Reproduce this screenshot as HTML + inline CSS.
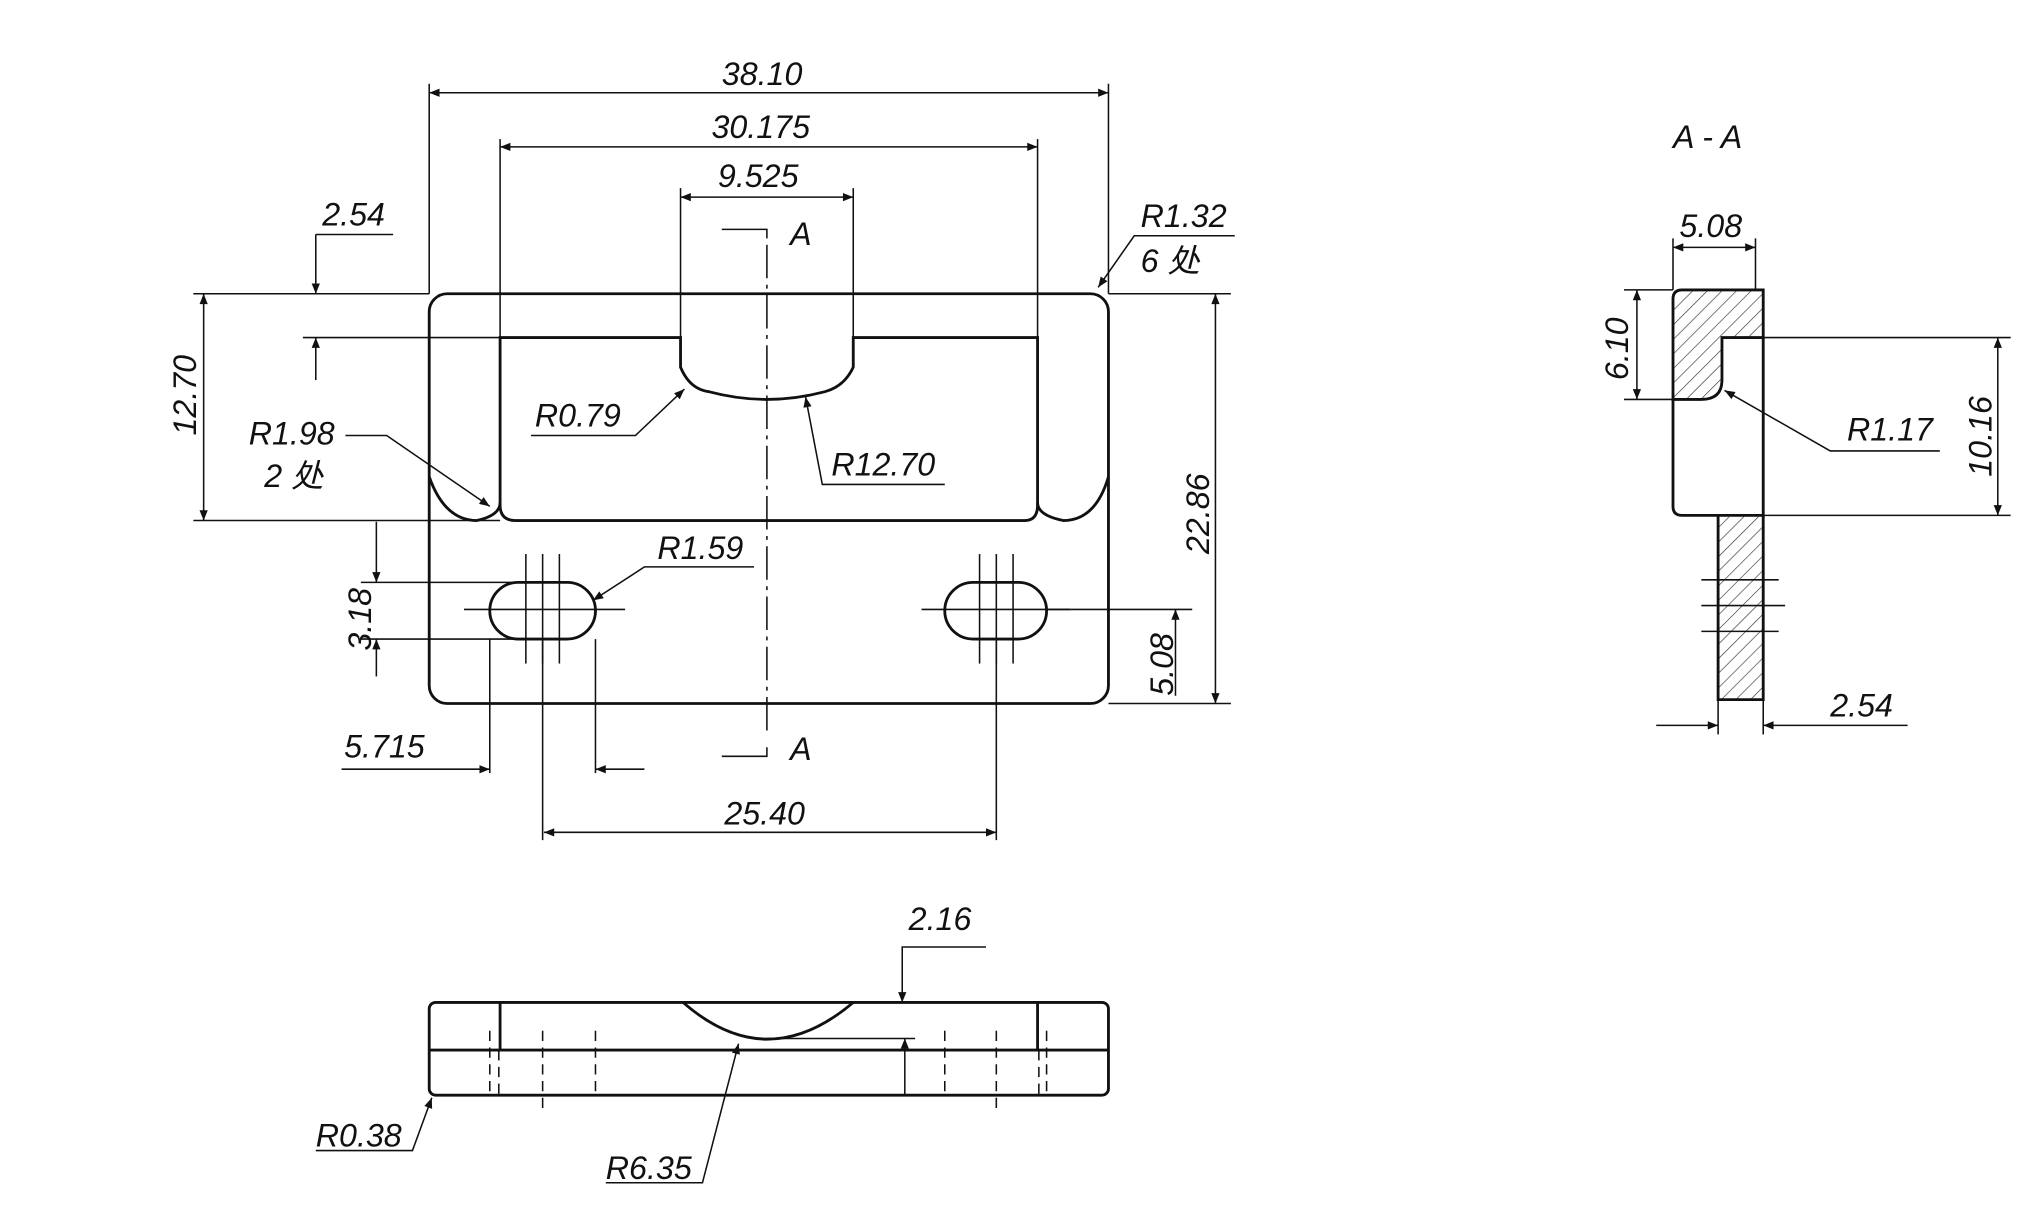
<!DOCTYPE html>
<html><head><meta charset="utf-8"><style>
html,body{margin:0;padding:0;background:#fff;width:2021px;height:1215px;overflow:hidden}
svg{display:block}
text{font-family:"Liberation Sans","Noto Sans CJK SC",sans-serif;font-style:italic;font-size:25px;fill:#111}
</style></head><body>
<svg width="2021" height="1215" viewBox="0 0 1568 943" preserveAspectRatio="none" xmlns="http://www.w3.org/2000/svg">
<defs>
<marker id="a" viewBox="0 0 10 10" refX="10" refY="5" markerWidth="14" markerHeight="8" orient="auto-start-reverse" markerUnits="userSpaceOnUse"><path d="M0,1 L10,5 L0,9z" fill="#111"/></marker>
<pattern id="h" width="8" height="8" patternUnits="userSpaceOnUse" patternTransform="rotate(45)"><line x1="0" y1="0" x2="0" y2="8" stroke="#333" stroke-width="1"/></pattern>
</defs>
<g fill="none" stroke="#111" stroke-width="2.2">
<rect x="333" y="228" width="527" height="318" rx="14"/>
<path d="M388,395 L388,262 L528,262 L528,285 Q535,302 550,304 Q595,316 640,304 Q655,300 662,285 L662,262 L805,262 L805,392 Q805,404 795,404 L400,404 Q388,404 388,392"/>
<path d="M333,370 Q345,404 370,404 Q388,400 388,390"/>
<path d="M860,370 Q850,404 825,404 Q805,400 805,390"/>
<rect x="380" y="452" width="82" height="44" rx="22"/>
<rect x="733" y="452" width="79" height="44" rx="22"/>
<rect x="333" y="778" width="527" height="72" rx="5"/>
<line x1="333" y1="815" x2="860" y2="815"/>
<line x1="388" y1="778" x2="388" y2="815"/>
<line x1="805" y1="778" x2="805" y2="815"/>
<path d="M530,778 Q595,835 662,778"/>
<path d="M1298,232 Q1298,225 1305,225 L1368,225 L1368,262 L1336,262 L1336,295 Q1336,310 1320,310 L1298,310 Z" fill="url(#h)"/>
<path d="M1298,310 L1298,393 Q1298,400 1305,400 L1368,400 L1368,262"/>
<path d="M1333,400 L1333,543 L1368,543 L1368,400" fill="url(#h)"/>
</g>
<g fill="none" stroke="#111" stroke-width="1.2">
<line x1="595" y1="190" x2="595" y2="570" stroke-dasharray="26,5,3,5"/>
<line x1="421" y1="430" x2="421" y2="515"/><line x1="360" y1="473" x2="485" y2="473"/>
<line x1="773" y1="430" x2="773" y2="515"/><line x1="715" y1="473" x2="830" y2="473"/>
<line x1="408" y1="430" x2="408" y2="515"/><line x1="434" y1="430" x2="434" y2="515"/>
<line x1="760" y1="430" x2="760" y2="515"/><line x1="786" y1="430" x2="786" y2="515"/>
<line x1="1320" y1="470" x2="1385" y2="470"/><line x1="1320" y1="450" x2="1380" y2="450"/><line x1="1320" y1="490" x2="1380" y2="490"/>
<g stroke-dasharray="8,5">
<line x1="380" y1="800" x2="380" y2="850"/><line x1="462" y1="800" x2="462" y2="850"/><line x1="421" y1="800" x2="421" y2="860"/>
<line x1="733" y1="800" x2="733" y2="850"/><line x1="812" y1="800" x2="812" y2="850"/><line x1="773" y1="800" x2="773" y2="860"/>
<line x1="387" y1="815" x2="387" y2="850"/><line x1="806" y1="815" x2="806" y2="850"/>
</g>
<line x1="595" y1="806" x2="710" y2="806"/>
<line x1="333" y1="65" x2="333" y2="228"/><line x1="860" y1="65" x2="860" y2="228"/>
<line x1="388" y1="108" x2="388" y2="262"/><line x1="805" y1="108" x2="805" y2="262"/>
<line x1="528" y1="146" x2="528" y2="262"/><line x1="662" y1="146" x2="662" y2="262"/>
<line x1="150" y1="228" x2="333" y2="228"/><line x1="150" y1="404" x2="388" y2="404"/>
<line x1="235" y1="262" x2="388" y2="262"/>
<line x1="860" y1="228" x2="955" y2="228"/><line x1="860" y1="546" x2="955" y2="546"/>
<line x1="280" y1="452" x2="410" y2="452"/><line x1="280" y1="496" x2="410" y2="496"/>
<line x1="812" y1="473" x2="925" y2="473"/>
<line x1="380" y1="496" x2="380" y2="600"/><line x1="462" y1="496" x2="462" y2="600"/>
<line x1="421" y1="496" x2="421" y2="652"/><line x1="773" y1="496" x2="773" y2="652"/>
<line x1="1298" y1="185" x2="1298" y2="225"/><line x1="1362" y1="185" x2="1362" y2="225"/>
<line x1="1260" y1="225" x2="1298" y2="225"/><line x1="1260" y1="310" x2="1298" y2="310"/>
<line x1="1368" y1="262" x2="1560" y2="262"/><line x1="1368" y1="400" x2="1560" y2="400"/>
<line x1="1333" y1="543" x2="1333" y2="570"/><line x1="1368" y1="543" x2="1368" y2="570"/>
<g marker-start="url(#a)" marker-end="url(#a)">
<line x1="333" y1="72" x2="860" y2="72"/>
<line x1="388" y1="114" x2="805" y2="114"/>
<line x1="528" y1="153" x2="662" y2="153"/>
<line x1="158" y1="228" x2="158" y2="404"/>
<line x1="943" y1="228" x2="943" y2="546"/>
<line x1="422" y1="646" x2="773" y2="646"/>
<line x1="1298" y1="192" x2="1362" y2="192"/>
<line x1="1270" y1="225" x2="1270" y2="310"/>
<line x1="1550" y1="262" x2="1550" y2="400"/>
</g>
<line x1="245" y1="182" x2="305" y2="182"/>
<g marker-end="url(#a)">
<line x1="245" y1="182" x2="245" y2="228"/>
<line x1="245" y1="295" x2="245" y2="262"/>
<line x1="292" y1="405" x2="292" y2="452"/>
<line x1="292" y1="525" x2="292" y2="496"/>
<line x1="912" y1="540" x2="912" y2="473"/>
<line x1="265" y1="597" x2="380" y2="597"/>
<line x1="500" y1="597" x2="462" y2="597"/>
<polyline points="765,735 700,735 700,778"/>
<line x1="702" y1="850" x2="702" y2="806"/>
<polyline points="958,183 880,183 852,223"/>
<polyline points="268,338 300,338 380,393"/>
<polyline points="412,338 493,338 531,302"/>
<polyline points="733,376 638,376 625,308"/>
<polyline points="585,440 500,440 460,466"/>
<polyline points="245,893 320,893 335,852"/>
<polyline points="470,918 545,918 573,810"/>
<polyline points="1505,350 1420,350 1338,303"/>
<line x1="1285" y1="563" x2="1333" y2="563"/>
<line x1="1480" y1="563" x2="1368" y2="563"/>
</g>
<polyline points="560,178 595,178 595,185"/><polyline points="560,587 595,587 595,580"/>
</g>
<g>
<text x="560" y="66">38.10</text>
<text x="552" y="107">30.175</text>
<text x="557" y="145">9.525</text>
<text x="250" y="175">2.54</text>
<text x="885" y="176">R1.32</text>
<text x="885" y="211">6 处</text>
<text x="613" y="190">A</text>
<text x="613" y="590">A</text>
<text x="193" y="345">R1.98</text>
<text x="205" y="378">2 处</text>
<text x="415" y="331">R0.79</text>
<text x="645" y="369">R12.70</text>
<text x="510" y="434">R1.59</text>
<text x="267" y="588">5.715</text>
<text x="562" y="640" fill="#666">25.40</text>
<text x="705" y="722">2.16</text>
<text x="245" y="890">R0.38</text>
<text x="470" y="915">R6.35</text>
<text x="1298" y="115">A - A</text>
<text x="1303" y="184">5.08</text>
<text x="1433" y="342">R1.17</text>
<text x="1420" y="556">2.54</text>
<text transform="translate(152,338) rotate(-90)">12.70</text>
<text transform="translate(938,430) rotate(-90)">22.86</text>
<text transform="translate(288,505) rotate(-90)">3.18</text>
<text transform="translate(910,540) rotate(-90)">5.08</text>
<text transform="translate(1263,295) rotate(-90)">6.10</text>
<text transform="translate(1545,370) rotate(-90)">10.16</text>
</g>
</svg>
</body></html>
